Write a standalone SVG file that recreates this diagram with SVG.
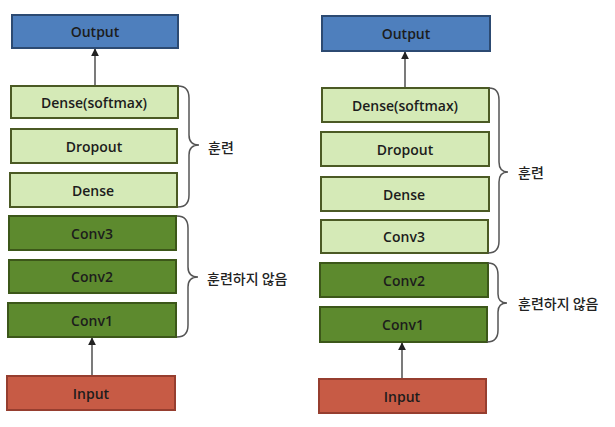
<svg xmlns="http://www.w3.org/2000/svg" width="615" height="427" viewBox="0 0 615 427">
<defs>
<style>
.out{fill:#4e7fbd;stroke:#2c4a72;stroke-width:2}
.lg{fill:#d5eab7;stroke:#4b5a24;stroke-width:2}
.dg{fill:#5d8a2e;stroke:#3c5719;stroke-width:2}
.inp{fill:#c75b45;stroke:#963e2f;stroke-width:2}
.t{font-family:"Open Sans","Noto Sans",sans-serif;font-size:14px;font-weight:600;fill:#1c1c1c;text-anchor:middle;dominant-baseline:central}
.k{font-family:"Noto Sans CJK KR",sans-serif;font-size:14px;font-weight:500;fill:#222;dominant-baseline:central}
.br{fill:none;stroke:#555;stroke-width:1.5}
.ar{stroke:#333;stroke-width:1.3;fill:none;marker-end:url(#ah)}
</style>
<marker id="ah" viewBox="0 0 10 10" refX="9" refY="5" markerWidth="6" markerHeight="6" orient="auto"><path d="M0,0 L10,5 L0,10 z" fill="#222"/></marker>
</defs>
<g id="connectors">
<line class="ar" x1="95" y1="86" x2="95" y2="49"/>
<line class="ar" x1="92" y1="376" x2="92" y2="338"/>
<line class="ar" x1="405" y1="88" x2="405" y2="52"/>
<line class="ar" x1="402" y1="379" x2="402" y2="343"/>
</g>
<g id="left-output"><rect class="out" x="12" y="15" width="166" height="33"/><text class="t" x="95" y="31">Output</text></g>
<g id="left-dense-softmax"><rect class="lg" x="11" y="86" width="167" height="32"/><text class="t" x="94" y="102">Dense(softmax)</text></g>
<g id="left-dropout"><rect class="lg" x="11" y="129" width="166" height="34"/><text class="t" x="94" y="146">Dropout</text></g>
<g id="left-dense"><rect class="lg" x="10" y="173" width="167" height="34"/><text class="t" x="93" y="190">Dense</text></g>
<g id="left-conv3"><rect class="dg" x="9" y="216" width="167" height="34"/><text class="t" x="92" y="233">Conv3</text></g>
<g id="left-conv2"><rect class="dg" x="9" y="260" width="167" height="33"/><text class="t" x="92" y="276">Conv2</text></g>
<g id="left-conv1"><rect class="dg" x="8" y="303" width="168" height="34"/><text class="t" x="92" y="320">Conv1</text></g>
<g id="left-input"><rect class="inp" x="7" y="376" width="168" height="34"/><text class="t" x="91" y="393">Input</text></g>
<g id="left-brace-train"><path class="br" d="M178 86 Q189 86 189 98 L189 135 Q189 145 199 145 Q189 145 189 155 L189 195 Q189 207 178 207"/><text class="k" x="208" y="147">훈련</text></g>
<g id="left-brace-frozen"><path class="br" d="M177 216 Q188 216 188 228 L188 267 Q188 277 198 277 Q188 277 188 287 L188 325 Q188 337 177 337"/><text class="k" x="207" y="278">훈련하지 않음</text></g>
<g id="right-output"><rect class="out" x="322" y="16" width="168" height="35"/><text class="t" x="406" y="33">Output</text></g>
<g id="right-dense-softmax"><rect class="lg" x="322" y="88" width="167" height="34"/><text class="t" x="405" y="105">Dense(softmax)</text></g>
<g id="right-dropout"><rect class="lg" x="321" y="132" width="168" height="34"/><text class="t" x="405" y="149">Dropout</text></g>
<g id="right-dense"><rect class="lg" x="321" y="177" width="168" height="34"/><text class="t" x="404" y="194">Dense</text></g>
<g id="right-conv3"><rect class="lg" x="321" y="220" width="167" height="33"/><text class="t" x="404" y="236">Conv3</text></g>
<g id="right-conv2"><rect class="dg" x="320" y="263" width="168" height="34"/><text class="t" x="404" y="280">Conv2</text></g>
<g id="right-conv1"><rect class="dg" x="320" y="307" width="167" height="35"/><text class="t" x="403" y="324">Conv1</text></g>
<g id="right-input"><rect class="inp" x="319" y="379" width="167" height="34"/><text class="t" x="402" y="396">Input</text></g>
<g id="right-brace-train"><path class="br" d="M489 88 Q499 88 499 100 L499 162 Q499 172 508 172 Q499 172 499 182 L499 241 Q499 253 488 253"/><text class="k" x="518" y="172">훈련</text></g>
<g id="right-brace-frozen"><path class="br" d="M488 263 Q498 263 498 275 L498 294 Q498 303 507 303 Q498 303 498 312 L498 330 Q498 342 487 342"/><text class="k" x="518" y="303">훈련하지 않음</text></g>
</svg>
